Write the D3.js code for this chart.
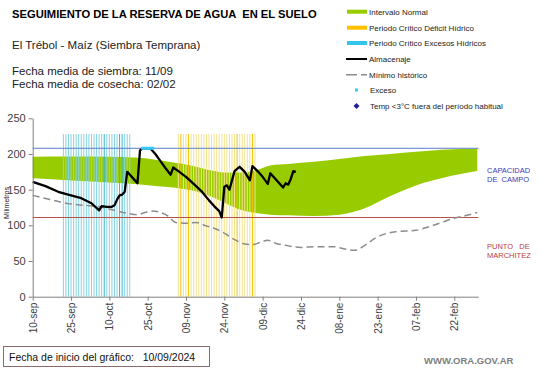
<!DOCTYPE html>
<html>
<head>
<meta charset="utf-8">
<script src="https://cdn.jsdelivr.net/npm/d3@7"></script>
<style>
  body { margin: 0; background: #fff; }
  svg text { font-family: "Liberation Sans", Arial, sans-serif; }
</style>
</head>
<body>
<div id="chart"></div>
<script>
var width = 541;
var height = 368;

// days counted from 10-sep-2024
var tickDias = [0, 15, 30, 45, 60, 75, 90, 105, 120, 135, 150, 165];
var tickLabels = ["10-sep", "25-sep", "10-oct", "25-oct", "09-nov", "24-nov", "09-dic", "24-dic", "08-ene", "23-ene", "07-feb", "22-feb"];
var yTicks = [0, 50, 100, 150, 200, 250];

// intervalo normal (banda)
var bandaDias = [0, 15, 30, 40, 48, 55, 62, 70, 76, 82, 88, 93, 100, 110, 120, 130, 140, 150, 160, 174];
var bandaMax = [196, 196.5, 196, 195, 192, 188, 184, 177, 174, 174, 178, 184, 186, 189, 193, 197, 200, 203, 206, 207.5];
var bandaMin = [166, 163, 160, 158, 155, 153, 149, 140, 130, 121, 117, 115, 114, 113, 115, 124, 141, 156, 166, 176];

// almacenaje
var almDias = [0, 5, 10, 15, 19, 23, 26, 27, 29, 31, 32, 33, 34, 35, 36, 37, 40, 41, 42, 43, 46, 48, 50, 52, 54, 55, 57, 60, 63, 66, 69, 71, 73, 74, 75, 76, 77, 79, 80, 81, 83, 85, 86, 88, 90, 92, 93, 95, 98, 99, 100, 101, 102, 103];
var almValores = [161, 155, 147, 142, 138, 131, 121, 127, 126, 126, 128, 136, 142, 143, 147, 175, 163, 159, 205, 208, 208, 200, 190, 180, 171, 181, 176, 168, 158, 148, 135, 127, 120, 111, 154, 156, 150, 176, 179, 182, 175, 163, 183, 176, 168, 158, 173, 165, 153, 159, 157, 165, 176, 175];

// minimo historico
var minDias = [0, 7, 13, 20, 26, 32, 37, 41, 44, 47, 50, 53, 56, 60, 64, 68, 71, 75, 79, 83, 86, 89, 92, 95, 99, 105, 110, 114, 118, 122, 126, 130, 134, 138, 142, 146, 150, 155, 160, 165, 170, 174];
var minValores = [142, 136, 131, 128, 126, 121, 117, 115, 118, 120, 118, 113, 104, 103, 104, 99, 96, 89, 80, 74, 73, 76, 79, 75, 72, 69, 70, 70, 70, 67, 65, 72, 82, 88, 91, 92, 93, 98, 104, 110, 114, 118];

// exceso
var excesoDias = [43, 44, 45, 46, 47];
var excesoValores = [208, 208, 208, 208, 208];

// periodos criticos (lineas diarias)
var excesosDias = [12, 13, 14, 15, 16, 17, 18, 19, 20, 21, 22, 23, 24, 25, 26, 27, 28, 29, 30, 31, 32, 33, 34, 35, 36, 37, 38];
var excesosOscuros = [28, 34, 35];
var deficitDias = [57, 58, 59, 60, 61, 62, 63, 64, 65, 66, 67, 68, 69, 70, 71, 72, 73, 74, 75, 76, 77, 78, 79, 80, 81, 82, 83, 84, 85, 86, 87];
var deficitOscuros = [58, 61, 80, 86];
var periodoAlto = 228;

var capacidadCampo = 208;
var puntoMarchitez = 111;

var svg = d3.select("#chart").append("svg").attr("width", width).attr("height", height);

var x = d3.scaleLinear().domain([0, 174.4]).range([32.7, 478.3]);
var y = d3.scaleLinear().domain([0, 250]).range([296.7, 118.3]);

// titulos
svg.append("text").attr("x", 12).attr("y", 18).attr("font-size", "11.2px").attr("font-weight", "bold")
  .attr("fill", "#000").attr("xml:space", "preserve").text("SEGUIMIENTO DE LA RESERVA DE AGUA  EN EL SUELO");
svg.append("text").attr("x", 12).attr("y", 49).attr("font-size", "11.5px").attr("fill", "#222")
  .text("El Trébol - Maíz  (Siembra Temprana)");
svg.append("text").attr("x", 12).attr("y", 75).attr("font-size", "11.5px").attr("fill", "#222")
  .text("Fecha media de siembra: 11/09");
svg.append("text").attr("x", 12).attr("y", 88).attr("font-size", "11.5px").attr("fill", "#222")
  .text("Fecha media de cosecha: 02/02");

// banda normal
var area = d3.area()
  .x(function(d, i){ return x(bandaDias[i]); })
  .y0(function(d, i){ return y(bandaMin[i]); })
  .y1(function(d, i){ return y(bandaMax[i]); })
  .curve(d3.curveMonotoneX);
svg.append("path").datum(bandaDias).attr("d", area).attr("fill", "#99cc00");

// periodos criticos
svg.selectAll(".exc").data(excesosDias).enter().append("line")
  .attr("x1", function(d){ return x(d); }).attr("x2", function(d){ return x(d); })
  .attr("y1", y(0)).attr("y2", y(periodoAlto))
  .attr("stroke", function(d){ return excesosOscuros.indexOf(d) >= 0 ? "#3bb6cc" : "#86d4e4"; })
  .attr("stroke-width", 1);
svg.selectAll(".def").data(deficitDias).enter().append("line")
  .attr("x1", function(d){ return x(d); }).attr("x2", function(d){ return x(d); })
  .attr("y1", y(0)).attr("y2", y(periodoAlto))
  .attr("stroke", function(d){ return deficitOscuros.indexOf(d) >= 0 ? "#f2c400" : "#f6e38c"; })
  .attr("stroke-width", 1);

// lineas horizontales
svg.append("line").attr("x1", x(0)).attr("x2", x(174.4)).attr("y1", y(capacidadCampo)).attr("y2", y(capacidadCampo))
  .attr("stroke", "#5a7ec8").attr("stroke-width", 1);
svg.append("line").attr("x1", x(0)).attr("x2", x(174.4)).attr("y1", y(puntoMarchitez)).attr("y2", y(puntoMarchitez))
  .attr("stroke", "#b5504a").attr("stroke-width", 1);

// minimo historico
var lineaMin = d3.line()
  .x(function(d, i){ return x(minDias[i]); })
  .y(function(d, i){ return y(minValores[i]); })
  .curve(d3.curveMonotoneX);
svg.append("path").datum(minDias).attr("d", lineaMin).attr("fill", "none")
  .attr("stroke", "#8c8c8c").attr("stroke-width", 1.5).attr("stroke-dasharray", "7,4");

// almacenaje
var lineaAlm = d3.line()
  .x(function(d, i){ return x(almDias[i]); })
  .y(function(d, i){ return y(almValores[i]); });
svg.append("path").datum(almDias).attr("d", lineaAlm).attr("fill", "none")
  .attr("stroke", "#000").attr("stroke-width", 2.3).attr("stroke-linejoin", "round");

// exceso
svg.selectAll(".excm").data(excesoDias).enter().append("rect")
  .attr("x", function(d){ return x(d) - 1.5; })
  .attr("y", function(d, i){ return y(excesoValores[i]) - 1.5; })
  .attr("width", 3).attr("height", 3).attr("fill", "#33ccff");

// ejes
var yAxis = svg.append("g").attr("transform", "translate(" + x(0) + ",0)")
  .call(d3.axisLeft(y).tickValues(yTicks).tickSize(4).tickSizeOuter(0));
yAxis.selectAll("text").attr("font-size", "11px").attr("fill", "#404040")
  .attr("font-family", "Liberation Sans, Arial, sans-serif");
yAxis.selectAll("path,line").attr("stroke", "#808080");

var xAxis = svg.append("g").attr("transform", "translate(0," + y(0) + ")")
  .call(d3.axisBottom(x).tickValues(tickDias).tickSize(4).tickSizeOuter(0)
    .tickFormat(function(d, i){ return tickLabels[i]; }));
xAxis.selectAll("path,line").attr("stroke", "#808080");
xAxis.selectAll("text").attr("font-size", "10px").attr("fill", "#404040")
  .attr("font-family", "Liberation Sans, Arial, sans-serif")
  .attr("transform", "rotate(-90)").attr("text-anchor", "end")
  .attr("x", -6).attr("y", 0).attr("dy", "0.35em");

svg.append("text").attr("transform", "translate(9,203) rotate(-90)").attr("text-anchor", "middle")
  .attr("font-size", "7px").attr("fill", "#222").text("Milimetros");

// etiquetas derecha
svg.append("text").attr("x", 487).attr("y", 173).attr("font-size", "7.5px").attr("fill", "#3a3ab8").text("CAPACIDAD");
svg.append("text").attr("x", 487).attr("y", 182).attr("font-size", "7.5px").attr("fill", "#3a3ab8")
  .attr("xml:space", "preserve").text("DE  CAMPO");
svg.append("text").attr("x", 487).attr("y", 249).attr("font-size", "7.5px").attr("fill", "#c0403a")
  .attr("xml:space", "preserve").text("PUNTO   DE");
svg.append("text").attr("x", 487).attr("y", 258).attr("font-size", "7.5px").attr("fill", "#c0403a").text("MARCHITEZ");

// leyenda
var leyendaTextos = ["Intervalo Normal", "Periodo Crítico Déficit Hídrico", "Periodo Crítico Excesos Hídricos", "Almacenaje", "Mínimo histórico", "Exceso", "Temp <3°C fuera del período habitual"];
var ly = [11.7, 27.7, 43, 59, 74.7, 90, 106];
var leg = svg.append("g");
leyendaTextos.forEach(function(t, i){
  var yy = ly[i];
  if (i < 3) {
    leg.append("rect").attr("x", 347).attr("y", yy - 2).attr("width", 20).attr("height", 4)
      .attr("fill", ["#99cc00", "#ffc000", "#33c6ea"][i]);
  } else if (i == 3) {
    leg.append("line").attr("x1", 346).attr("x2", 367).attr("y1", yy).attr("y2", yy).attr("stroke", "#000").attr("stroke-width", 2);
  } else if (i == 4) {
    leg.append("line").attr("x1", 346).attr("x2", 367).attr("y1", yy).attr("y2", yy).attr("stroke", "#8c8c8c")
      .attr("stroke-width", 1.5).attr("stroke-dasharray", "11,4");
  } else if (i == 5) {
    leg.append("rect").attr("x", 355).attr("y", yy - 1.5).attr("width", 3).attr("height", 3).attr("fill", "#33ccff");
  } else {
    leg.append("path").attr("d", "M356.5," + (yy - 3) + "L359.5," + yy + "L356.5," + (yy + 3) + "L353.5," + yy + "Z").attr("fill", "#1f1f9a");
  }
  leg.append("text").attr("x", i < 5 ? 369 : 370).attr("y", yy + 3).attr("font-size", "8px").attr("fill", "#222").text(t);
});

// pie
svg.append("rect").attr("x", 3.5).attr("y", 346.5).attr("width", 206).attr("height", 20)
  .attr("fill", "#fff").attr("stroke", "#8c6b6b").attr("stroke-width", 1);
svg.append("text").attr("x", 9).attr("y", 361).attr("font-size", "10.5px").attr("fill", "#111")
  .attr("font-family", "Lato, sans-serif").attr("xml:space", "preserve")
  .text("Fecha de inicio del gráfico:   10/09/2024");
svg.append("text").attr("x", 424).attr("y", 364).attr("font-size", "9.5px").attr("font-weight", "bold")
  .attr("fill", "#808080").text("WWW.ORA.GOV.AR");
</script>
</body>
</html>
